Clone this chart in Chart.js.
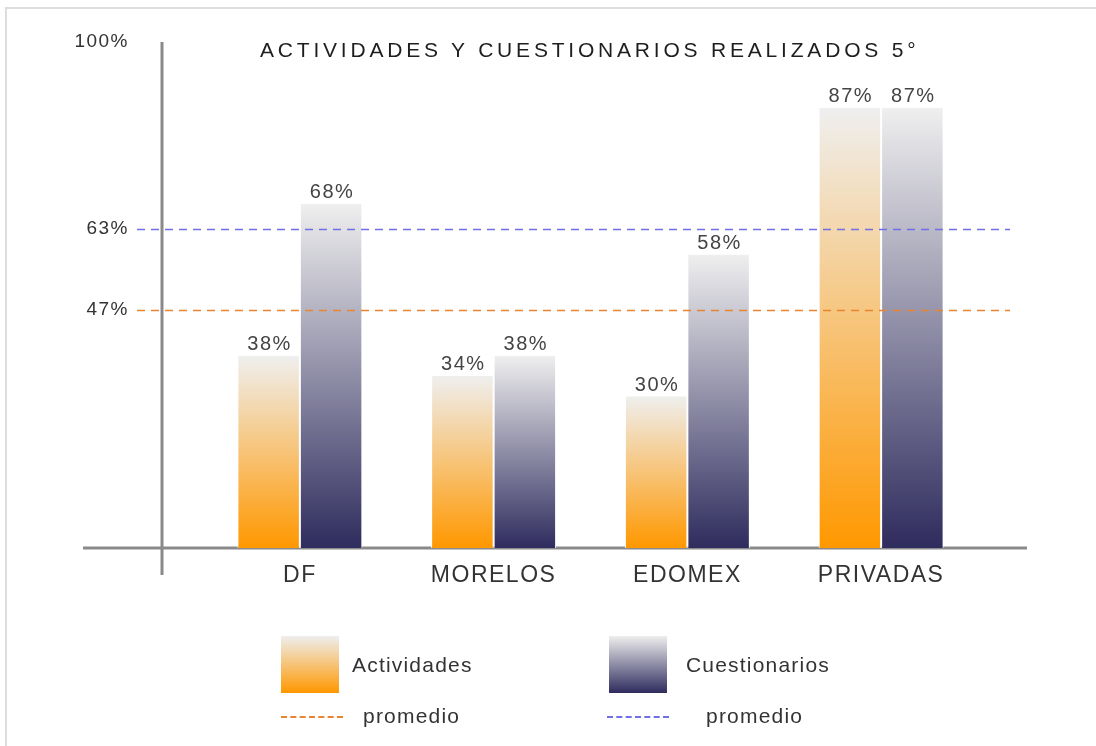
<!DOCTYPE html>
<html>
<head>
<meta charset="utf-8">
<script src="https://cdn.jsdelivr.net/npm/chart.js@4/dist/chart.umd.min.js"></script>
<style>
  body { margin: 0; background: #fff; font-family: "Liberation Sans", Arial, sans-serif; }
  #wrap { position: relative; width: 1096px; height: 746px; overflow: hidden; }
  #frame { position: absolute; left: 5px; top: 7px; width: 1200px; height: 800px; border-left: 2px solid #ddd; border-top: 2px solid #ddd; }
  canvas { position: absolute; left: 0; top: 0; }
  #title { position: absolute; left: 260px; top: 38px; font-size: 21px; letter-spacing: 3.8px; color: #1e1e1e; white-space: nowrap; }
  .lg { position: absolute; font-size: 21px; letter-spacing: 1.2px; color: #333; white-space: nowrap; }
  .box { position: absolute; width: 58px; height: 57px; }
  .dash { position: absolute; height: 0; width: 62px; border-top: 2px dashed; }
</style>
</head>
<body>
<div id="wrap">
  <div id="frame"></div>
  <canvas id="chart" width="1096" height="746"></canvas>
  <div id="title">ACTIVIDADES Y CUESTIONARIOS REALIZADOS 5°</div>
  <div class="box" style="left:281px; top:636px; background:linear-gradient(#eeeeee, #ff9800);"></div>
  <div class="lg" style="left:352px; top:653px;">Actividades</div>
  <div class="box" style="left:609px; top:636px; background:linear-gradient(#eeeeee, #2f2c5e);"></div>
  <div class="lg" style="left:686px; top:653px;">Cuestionarios</div>
  <div class="dash" style="left:281px; top:716px; border-color:#e8852e;"></div>
  <div class="lg" style="left:363px; top:704px;">promedio</div>
  <div class="dash" style="left:607px; top:716px; border-color:#7070e6;"></div>
  <div class="lg" style="left:706px; top:704px;">promedio</div>
</div>
<script>
const categories = ["DF", "MORELOS", "EDOMEX", "PRIVADAS"];
const actividades = [38, 34, 30, 87];
const cuestionarios = [68, 38, 58, 87];
const promedioActividades = 47;
const promedioCuestionarios = 63;
const yTicks = [promedioActividades, promedioCuestionarios, 100];

function barGradient(bottomColor) {
  return (ctx) => {
    const chart = ctx.chart;
    if (!chart.chartArea || ctx.raw == null) return bottomColor;
    const y = chart.scales.y;
    const top = y.getPixelForValue(ctx.raw);
    const base = y.getPixelForValue(0);
    const g = chart.ctx.createLinearGradient(0, top, 0, base);
    g.addColorStop(0, "#efefef");
    g.addColorStop(1, bottomColor);
    return g;
  };
}

// cross-style axes + average lines + value labels
const decor = {
  id: "decor",
  beforeDraw(chart) {
    chart.ctx.letterSpacing = "1.5px";
  },
  beforeDatasetsDraw(chart) {
    const { ctx, chartArea, scales } = chart;
    const yAxisX = chartArea.left - 41;
    ctx.save();
    ctx.strokeStyle = "#8a8a8a";
    ctx.lineWidth = 3;
    ctx.beginPath();
    ctx.moveTo(yAxisX, scales.y.getPixelForValue(100));
    ctx.lineTo(yAxisX, chartArea.bottom + 27);
    ctx.moveTo(chartArea.left - 120, chartArea.bottom);
    ctx.lineTo(chartArea.right + 49, chartArea.bottom);
    ctx.stroke();
    ctx.restore();
  },
  afterDatasetsDraw(chart) {
    const { ctx, chartArea, scales } = chart;
    ctx.save();
    ctx.lineWidth = 1.6;
    ctx.setLineDash([8, 6]);
    [[promedioCuestionarios, "#7070e6"], [promedioActividades, "#e8852e"]].forEach(([v, c]) => {
      const py = Math.round(scales.y.getPixelForValue(v)) + 0.5;
      ctx.strokeStyle = c;
      ctx.beginPath();
      ctx.moveTo(chartArea.left - 66, py);
      ctx.lineTo(chartArea.right + 32, py);
      ctx.stroke();
    });
    ctx.setLineDash([]);
    ctx.fillStyle = "#444";
    ctx.font = "20px 'Liberation Sans'";
    ctx.letterSpacing = "1.5px";
    ctx.textAlign = "center";
    ctx.textBaseline = "bottom";
    chart.data.datasets.forEach((ds, i) => {
      chart.getDatasetMeta(i).data.forEach((bar, j) => {
        ctx.fillText(ds.data[j] + "%", bar.x + 1, bar.y - 1);
      });
    });
    ctx.restore();
  }
};

new Chart(document.getElementById("chart"), {
  type: "bar",
  data: {
    labels: categories,
    datasets: [
      { label: "Actividades", data: actividades, backgroundColor: barGradient("#ff9800"), borderColor: "#fff", borderWidth: { left: 1, right: 1 }, borderSkipped: false },
      { label: "Cuestionarios", data: cuestionarios, backgroundColor: barGradient("#2f2c5e"), borderColor: "#fff", borderWidth: { left: 1, right: 1 }, borderSkipped: false }
    ]
  },
  options: {
    responsive: false,
    animation: false,
    layout: { padding: { top: 42, right: 118, left: 0, bottom: 142.4 } },
    datasets: { bar: { categoryPercentage: 0.645, barPercentage: 1 } },
    plugins: { legend: { display: false }, title: { display: false }, tooltip: { enabled: false } },
    scales: {
      x: {
        grid: { display: false, drawTicks: false },
        border: { display: false },
        ticks: { color: "#333", font: { family: "Liberation Sans", size: 23 }, padding: 14 }
      },
      y: {
        min: 0,
        max: 100,
        grid: { display: false, drawTicks: false },
        border: { display: false },
        afterBuildTicks: (s) => { s.ticks = yTicks.map(v => ({ value: v })); },
        ticks: { color: "#333", font: { family: "Liberation Sans", size: 19 }, padding: 74, callback: (v) => v + "%" },
        afterFit: (s) => { s.width = 203; s.paddingTop = 0; s.paddingBottom = 0; }
      }
    }
  },
  plugins: [decor]
});
</script>
</body>
</html>
